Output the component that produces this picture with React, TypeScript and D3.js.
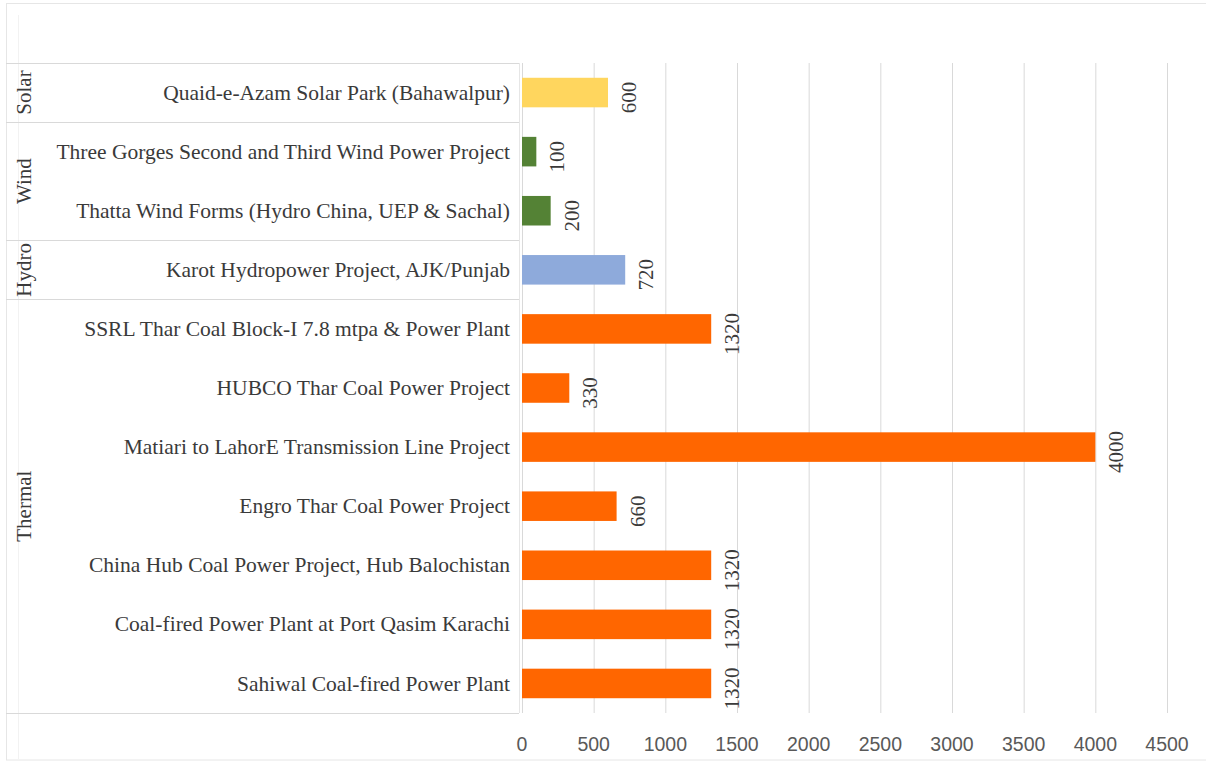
import React from "react";
import * as d3 from "d3";

const categories = [
  "Quaid-e-Azam Solar Park (Bahawalpur)",
  "Three Gorges Second and Third Wind Power Project",
  "Thatta Wind Forms (Hydro China, UEP & Sachal)",
  "Karot Hydropower Project, AJK/Punjab",
  "SSRL Thar Coal Block-I 7.8 mtpa & Power Plant",
  "HUBCO Thar Coal Power Project",
  "Matiari to LahorE Transmission Line Project",
  "Engro Thar Coal Power Project",
  "China Hub Coal Power Project, Hub Balochistan",
  "Coal-fired Power Plant at Port Qasim Karachi",
  "Sahiwal Coal-fired Power Plant",
];
const values = [600, 100, 200, 720, 1320, 330, 4000, 660, 1320, 1320, 1320];
const groupOf = ["Solar", "Wind", "Wind", "Hydro", "Thermal", "Thermal", "Thermal", "Thermal", "Thermal", "Thermal", "Thermal"];
const groups = ["Solar", "Wind", "Hydro", "Thermal"];
const groupColors: Record<string, string> = {
  Solar: "#FFD65E",
  Wind: "#548235",
  Hydro: "#8EAADB",
  Thermal: "#FF6600",
};
const ticks = [0, 500, 1000, 1500, 2000, 2500, 3000, 3500, 4000, 4500];

const W = 1206;
const H = 761;
const plotTop = 63;
const plotBottom = 713;
const plotLeft = 522;
const plotRight = 1167;
const tableLeft = 6;
const tableRight = 519;
const serif = "'Liberation Serif', 'DejaVu Serif', serif";
const sans = "'Liberation Sans', Arial, sans-serif";
const textColor = "#3A3A3A";
const gridColor = "#D9D9D9";

export default function App() {
  const x = d3.scaleLinear().domain([0, 4500]).range([plotLeft, plotRight]);
  const y = d3
    .scaleBand<string>()
    .domain(categories)
    .range([plotTop, plotBottom])
    .paddingInner(0.5)
    .paddingOuter(0.25);
  const step = y.step();

  const groupExtents = groups.map((g) => {
    const idx = categories.map((_, i) => i).filter((i) => groupOf[i] === g);
    const first = d3.min(idx)!;
    const last = d3.max(idx)!;
    return { g, top: plotTop + first * step, bottom: plotTop + (last + 1) * step };
  });

  return (
    <svg
      width={W}
      height={H}
      style={{ position: "absolute", left: 0, top: 0, display: "block", background: "#fff" }}
    >
      <rect x={0} y={0} width={W} height={H} fill="#fff" />
      <rect x={6.5} y={3.5} width={W - 6} height={H - 4.5} fill="none" stroke="#E6E6E6" />
      <line x1={18.5} x2={18.5} y1={15} y2={H - 2} stroke="#F2F2F2" />

      {ticks.map((t) => (
        <line
          key={"g" + t}
          x1={x(t) + 0.5}
          x2={x(t) + 0.5}
          y1={plotTop}
          y2={plotBottom}
          stroke={gridColor}
          strokeWidth={1}
        />
      ))}

      {groupExtents.map((ge) => (
        <line
          key={"t" + ge.g}
          x1={tableLeft}
          x2={tableRight}
          y1={Math.round(ge.top) + 0.5}
          y2={Math.round(ge.top) + 0.5}
          stroke={gridColor}
        />
      ))}
      <line x1={tableLeft} x2={tableRight} y1={plotBottom + 0.5} y2={plotBottom + 0.5} stroke={gridColor} />
      <line x1={tableRight + 0.5} x2={tableRight + 0.5} y1={plotTop} y2={plotBottom} stroke="#E6E6E6" />

      {categories.map((c, i) => (
        <rect
          key={"b" + i}
          x={x(0)}
          y={y(c)!}
          width={x(values[i]) - x(0)}
          height={y.bandwidth()}
          fill={groupColors[groupOf[i]]}
        />
      ))}

      {categories.map((c, i) => (
        <text
          key={"c" + i}
          x={510}
          y={y(c)! + y.bandwidth() / 2}
          dy="0.33em"
          textAnchor="end"
          fontFamily={serif}
          fontSize={21.5}
          fill={textColor}
        >
          {c}
        </text>
      ))}

      {groupExtents.map((ge) => (
        <text
          key={"gl" + ge.g}
          transform={`translate(31,${(ge.top + ge.bottom) / 2}) rotate(-90)`}
          textAnchor="middle"
          fontFamily={serif}
          fontSize={21}
          fill={textColor}
        >
          {ge.g}
        </text>
      ))}

      {categories.map((c, i) => (
        <text
          key={"v" + i}
          transform={`translate(${x(values[i]) + 28},${y(c)! + y.bandwidth() / 2 + 5}) rotate(-90)`}
          textAnchor="middle"
          fontFamily={serif}
          fontSize={21}
          fill={textColor}
        >
          {values[i]}
        </text>
      ))}

      {ticks.map((t) => (
        <text
          key={"x" + t}
          x={x(t)}
          y={751}
          textAnchor="middle"
          fontFamily={sans}
          fontSize={19.5}
          fill="#595959"
        >
          {t}
        </text>
      ))}
    </svg>
  );
}
